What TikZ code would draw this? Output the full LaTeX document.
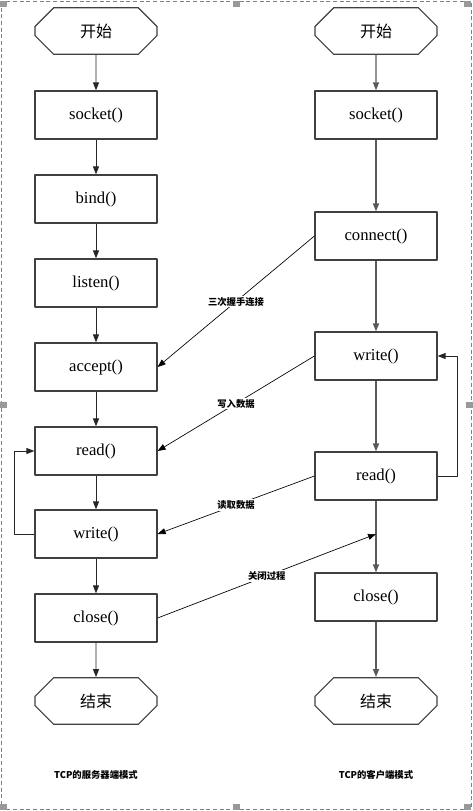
\documentclass[tikz,border=0pt]{standalone}
\usepackage{fontspec}
\setmainfont{Liberation Serif}
\newfontfamily\cjk{Noto Sans CJK SC}
\usetikzlibrary{arrows.meta,shapes.misc}

\begin{document}
\begin{tikzpicture}[->,>={Triangle[length=6pt,width=4.5pt]},x=0.75pt,y=-0.75pt,line join=bevel]
  \tikzstyle{func}=[rectangle,draw=black!75,line width=0.9pt,minimum width=91.5pt,minimum height=36pt,font=\fontsize{12.5}{14}\selectfont]
  \tikzstyle{term}=[chamfered rectangle,chamfered rectangle xsep=7pt,chamfered rectangle ysep=8.5pt,draw=black!75,line width=0.9pt,minimum width=91.5pt,minimum height=35pt,inner sep=0pt,font=\cjk\large]
  \tikzstyle{flow}=[draw=black!85,line width=0.7pt]
  \tikzstyle{cflow}=[draw=black!65,line width=1pt]
  \tikzstyle{msg}=[draw=black,line width=0.5pt]
  \tikzstyle{tag}=[fill=white,inner sep=1pt,font=\cjk\scriptsize\bfseries]
  \useasboundingbox (0,0) rectangle (473,811);
  % selection frame
  \draw[-,gray,densely dashed] (1,1) rectangle (471,809);
  \foreach \hx/\hy in {0/1,233/1,464/1,0/402,466/402,0/804,233/804,464/804}
    \fill[gray!80] (\hx,\hy) rectangle ++(7,6);
  % server
  \node[term] (S_0) at (96,31)  {开始};
  \node[func] (S_1) at (96,115) {socket()};
  \node[func] (S_2) at (96,199) {bind()};
  \node[func] (S_3) at (96,283) {listen()};
  \node[func] (S_4) at (96,367) {accept()};
  \node[func] (S_5) at (96,451) {read()};
  \node[func] (S_6) at (96,534) {write()};
  \node[func] (S_7) at (96,618) {close()};
  \node[term] (S_8) at (96,701) {结束};
  % client
  \node[term] (C_0) at (376,31)  {开始};
  \node[func] (C_1) at (376,115) {socket()};
  \node[func] (C_2) at (376,236) {connect()};
  \node[func] (C_3) at (376,356) {write()};
  \node[func] (C_4) at (376,476) {read()};
  \coordinate (C_j) at (376,534);
  \node[func] (C_5) at (376,597) {close()};
  \node[term] (C_6) at (376,701) {结束};
  \node[font=\cjk\scriptsize\bfseries] (T_S) at (96,775)  {TCP的服务器端模式};
  \node[font=\cjk\scriptsize\bfseries] (T_C) at (376,775) {TCP的客户端模式};
  \path (S_0) edge[flow] (S_1)
        (S_1) edge[flow] (S_2)
        (S_2) edge[flow] (S_3)
        (S_3) edge[flow] (S_4)
        (S_4) edge[flow] (S_5)
        (S_5) edge[flow] (S_6)
        (S_6) edge[flow] (S_7)
        (S_7) edge[flow] (S_8)
        (C_0) edge[cflow] (C_1)
        (C_1) edge[cflow] (C_2)
        (C_2) edge[cflow] (C_3)
        (C_3) edge[cflow] (C_4)
        (C_4) edge[cflow] (C_5)
        (C_5) edge[cflow] (C_6);
  \draw[flow] (S_6.west) -- ++(-20,0) |- (S_5.west);
  \draw[flow] (C_4.east) -- ++(20,0) |- (C_3.east);
  \path (C_2.west) edge[msg] node[tag] {三次握手连接} (S_4.east)
        (C_3.west) edge[msg] node[tag] {写入数据} (S_5.east)
        (C_4.west) edge[msg] node[tag] {读取数据} (S_6.east)
        (S_7.east) edge[msg] node[tag] {关闭过程} (C_j);
\end{tikzpicture}
\end{document}
